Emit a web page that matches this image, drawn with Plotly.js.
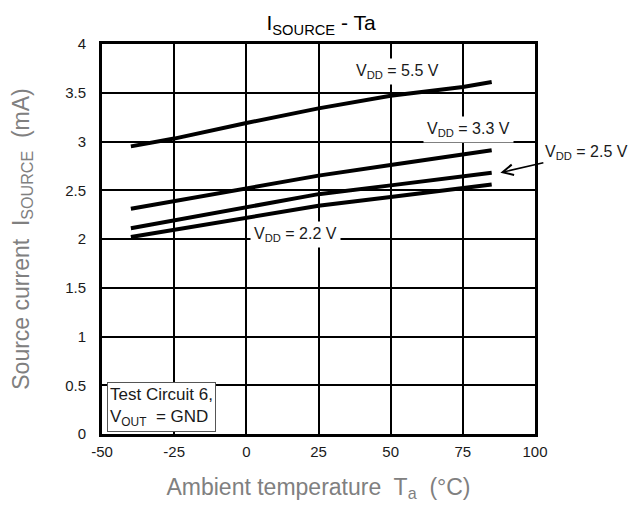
<!DOCTYPE html>
<html>
<head>
<meta charset="utf-8">
<script src="https://cdn.plot.ly/plotly-3.0.1.min.js"></script>
<style>html,body{margin:0;padding:0;background:#fff;}#chart{width:632px;height:507px;}</style>
</head>
<body>
<div id="chart"></div>
<script>
var temps = [-40, -25, 0, 25, 50, 75, 85];
var vdd55 = [2.95, 3.03, 3.19, 3.34, 3.47, 3.56, 3.61];
var vdd33 = [2.31, 2.39, 2.52, 2.65, 2.76, 2.86, 2.91];
var vdd25 = [2.11, 2.19, 2.33, 2.46, 2.55, 2.64, 2.68];
var vdd22 = [2.02, 2.095, 2.22, 2.34, 2.43, 2.52, 2.56];

var xTickVals = [-50, -25, 0, 25, 50, 75, 100];
var xTickText = ['-50', '-25', '0', '25', '50', '75', '100'];
var yTickVals = [0, 0.5, 1, 1.5, 2, 2.5, 3, 3.5, 4];
var yTickText = ['0', '0.5', '1', '1.5', '2', '2.5', '3', '3.5', '4'];

var FONT = 'Liberation Sans, Arial, sans-serif';

function series(y, name) {
  return {x: temps, y: y, name: name, type: 'scatter', mode: 'lines',
          line: {color: '#000', width: 4}, hoverinfo: 'skip', showlegend: false};
}

var data = [series(vdd55, '5.5 V'), series(vdd33, '3.3 V'), series(vdd25, '2.5 V'), series(vdd22, '2.2 V')];

var layout = {
  width: 632, height: 507,
  margin: {l: 102, r: 97, t: 44, b: 73},
  paper_bgcolor: '#fff', plot_bgcolor: '#fff',
  font: {family: FONT, color: '#1a1a1a', size: 15},
  title: {text: 'I<sub>SOURCE</sub> - Ta', font: {family: FONT, size: 21, color: '#000'},
          x: 0.508, xanchor: 'center', y: 0.955, yanchor: 'middle'},
  xaxis: {range: [-50, 100], tickvals: xTickVals, ticktext: xTickText,
          showgrid: true, gridcolor: '#000', gridwidth: 2, zeroline: false,
          showline: true, linecolor: '#000', linewidth: 3, mirror: true,
          ticks: 'outside', ticklen: 2, tickcolor: 'rgba(0,0,0,0)',
          tickfont: {size: 15, color: '#1a1a1a'},
          title: {text: 'Ambient temperature  T<sub>a</sub>  (\u00B0C)', font: {size: 23, color: '#808080'}, standoff: 20}},
  yaxis: {range: [0, 4], tickvals: yTickVals, ticktext: yTickText,
          showgrid: true, gridcolor: '#000', gridwidth: 2, zeroline: false,
          showline: true, linecolor: '#000', linewidth: 3, mirror: true,
          ticks: 'outside', ticklen: 10, tickcolor: 'rgba(0,0,0,0)',
          tickfont: {size: 15, color: '#1a1a1a'},
          title: {text: 'Source current  I<sub>SOURCE</sub>  (mA)', font: {size: 23, color: '#808080'}, standoff: 30}},
  annotations: [
    {x: 52.5, y: 3.72, xref: 'x', yref: 'y', text: 'V<sub>DD</sub> = 5.5 V', showarrow: false,
     font: {size: 16, color: '#1a1a1a'}, bgcolor: '#fff', borderpad: 3},
    {x: 77, y: 3.12, xref: 'x', yref: 'y', text: 'V<sub>DD</sub> = 3.3 V', showarrow: false,
     font: {size: 16, color: '#1a1a1a'}, bgcolor: '#fff', borderpad: 3},
    {x: 17, y: 2.05, xref: 'x', yref: 'y', text: 'V<sub>DD</sub> = 2.2 V', showarrow: false,
     font: {size: 16, color: '#1a1a1a'}, bgcolor: '#fff', borderpad: 3},
    {x: 88, y: 2.68, xref: 'x', yref: 'y', text: 'V<sub>DD</sub> = 2.5 V', showarrow: true,
     ax: 86, ay: -20, arrowhead: 5, arrowsize: 1.3, arrowwidth: 1.6, arrowcolor: '#000',
     font: {size: 16, color: '#1a1a1a'}, bgcolor: 'rgba(255,255,255,0)'},
    {x: 0.012, y: 0.005, xref: 'paper', yref: 'paper', xanchor: 'left', yanchor: 'bottom',
     text: 'Test Circuit 6,<br>V<sub>OUT</sub>  = GND', align: 'left', showarrow: false,
     font: {size: 17, color: '#1a1a1a'}, bgcolor: '#fff', bordercolor: '#555', borderwidth: 1, borderpad: 2}
  ]
};

Plotly.newPlot('chart', data, layout, {staticPlot: true, displayModeBar: false});
</script>
</body>
</html>
